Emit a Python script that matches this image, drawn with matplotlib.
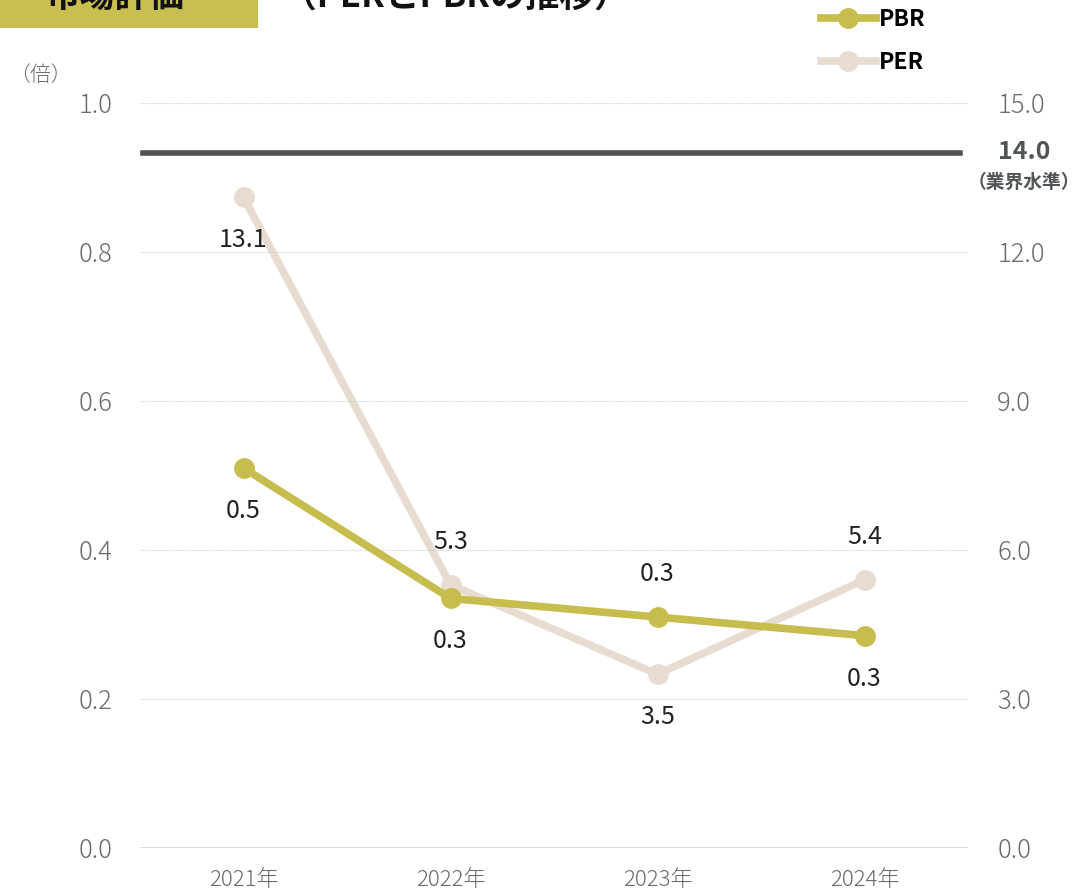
import matplotlib
matplotlib.use("Agg")
import matplotlib.pyplot as plt
from matplotlib.patches import Rectangle

plt.rcParams['font.family'] = ['Noto Sans CJK JP', 'DejaVu Sans']

# data
years = ["2021年", "2022年", "2023年", "2024年"]
pbr = [0.51, 0.335, 0.31, 0.285]
per = [13.1, 5.3, 3.5, 5.4]
industry_per = 14.0
left_ticks = [0.0, 0.2, 0.4, 0.6, 0.8, 1.0]
right_ticks = [0.0, 3.0, 6.0, 9.0, 12.0, 15.0]

# label above (+1) or below (-1) the point
pbr_side = [-1, -1, 1, -1]
per_side = [-1, 1, -1, 1]

pbr_color = "#C7BD4E"
per_color = "#E7DCCF"
tick_color = "#6b6b6b"

fig = plt.figure(figsize=(10.89, 8.96), dpi=100)
ax = fig.add_axes([140/1089, 1-848/896, 828/1089, 745/896])
ax2 = ax.twinx()

x = list(range(len(years)))

ax.set_xlim(-0.5, 3.5)
ax.set_ylim(0, 1.0)
ax2.set_ylim(0, 15.0)

ax.set_yticks(left_ticks)
ax.set_yticklabels([f"{v:.1f}" for v in left_ticks])
ax2.set_yticks(right_ticks)
ax2.set_yticklabels([f"{v:.1f}" for v in right_ticks])
ax.set_xticks(x)
ax.set_xticklabels(years)

for a in (ax, ax2):
    for s in a.spines.values():
        s.set_visible(False)
    a.tick_params(length=0, labelsize=18.5, labelcolor=tick_color)
ax.tick_params(axis='y', pad=20)
ax2.tick_params(axis='y', pad=21)
ax.tick_params(axis='x', pad=15, labelsize=16)
for lbl in ax.get_yticklabels() + ax2.get_yticklabels() + ax.get_xticklabels():
    lbl.set_fontweight('light')

ax.grid(axis='y', color="#cfcfcf", linestyle=(0, (1, 1)), linewidth=0.8)
ax.set_axisbelow(True)
ax.axhline(0, color="#d9d9d9", linewidth=2)

# industry level
ax2.axhline(industry_per, xmin=0.004, xmax=0.99, color="#505457", linewidth=4)

# series
ax.plot(x, pbr, color=pbr_color, linewidth=5.5, marker='o', markersize=14,
        solid_capstyle='round', zorder=3)
ax2.plot(x, per, color=per_color, linewidth=5.5, marker='o', markersize=14,
         solid_capstyle='round', zorder=2)
ax.set_zorder(ax2.get_zorder() + 1)
ax.patch.set_visible(False)

for xi, v, s in zip(x, pbr, pbr_side):
    ax.annotate(f"{v:.1f}", (xi, v), xytext=(0, 31 * s), textcoords='offset points',
                ha='center', va='center', fontsize=18, color="#222222")
for xi, v, s in zip(x, per, per_side):
    ax2.annotate(f"{v:.1f}", (xi, v), xytext=(0, 31 * s), textcoords='offset points',
                 ha='center', va='center', fontsize=18, color="#222222")

# right side industry label
fig.text(1024/1089, 1-152/896, f"{industry_per:.1f}", ha='center', va='center',
         fontsize=18, fontweight='bold', color="#505457")
fig.text(1024/1089, 1-182/896, "（業界水準）", ha='center', va='center',
         fontsize=13.5, fontweight='bold', color="#505457")

# unit
fig.text(40/1089, 1-75/896, "（倍）", ha='center', va='center', fontsize=15,
         color=tick_color, fontweight='light')

# title (cut at top edge, as in the source)
fig.patches.append(Rectangle((0, 1-28/896), 258/1089, 28/896 + 0.02,
                             transform=fig.transFigure, facecolor="#C8BF50",
                             edgecolor='none'))
fig.text(115/1089, 1+3/896, "市場評価", ha='center', va='center', fontsize=25,
         fontweight='bold', color="#111111")
fig.text(455/1089, 1+3/896, "（PERとPBRの推移）", ha='center', va='center',
         fontsize=25, fontweight='bold', color="#111111")

# legend
ax2.plot([], [], color=pbr_color, linewidth=5.5, marker='o', markersize=14, label="PBR")
ax2.plot([], [], color=per_color, linewidth=5.5, marker='o', markersize=14, label="PER")
leg = fig.legend(handles=ax2.get_lines()[-2:], loc='center left',
                 bbox_to_anchor=(800/1089, 1-41/896), frameon=False,
                 handlelength=2.4, handletextpad=0.15, labelspacing=0.9,
                 prop={'size': 16.5, 'weight': 'bold'})

fig.savefig("out.png", dpi=100)
